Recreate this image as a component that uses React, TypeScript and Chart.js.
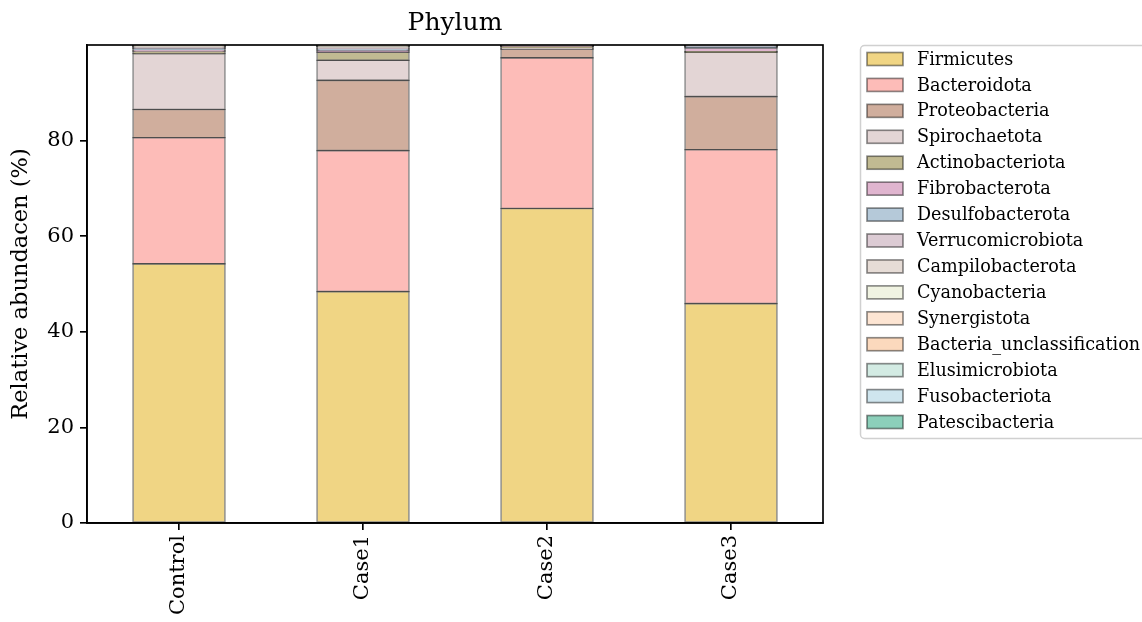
import React, { useEffect, useRef } from "react";
import { Chart, registerables } from "chart.js";

Chart.register(...registerables);

const categories = ["Control", "Case1", "Case2", "Case3"];

const phyla = [
  "Firmicutes",
  "Bacteroidota",
  "Proteobacteria",
  "Spirochaetota",
  "Actinobacteriota",
  "Fibrobacterota",
  "Desulfobacterota",
  "Verrucomicrobiota",
  "Campilobacterota",
  "Cyanobacteria",
  "Synergistota",
  "Bacteria_unclassification",
  "Elusimicrobiota",
  "Fusobacteriota",
  "Patescibacteria",
];

const colors = [
  "#f0d584",
  "#fdbcb8",
  "#d0ae9d",
  "#e3d5d5",
  "#c1ba92",
  "#e0b5cf",
  "#b5c9d9",
  "#dccbd4",
  "#e6dcd6",
  "#f0f3e2",
  "#fde5d3",
  "#fbd9bd",
  "#d3ebe3",
  "#cfe5ee",
  "#8ccfba",
];

// values per phylum: [Control, Case1, Case2, Case3]
const firmicutes = [54.2, 48.4, 65.8, 45.9];
const bacteroidota = [26.4, 29.5, 31.5, 32.2];
const proteobacteria = [5.9, 14.7, 1.8, 11.1];
const spirochaetota = [11.7, 4.2, 0.2, 9.3];
const actinobacteriota = [0.4, 1.7, 0.3, 0.1];
const fibrobacterota = [0.3, 0.3, 0.1, 0.8];
const desulfobacterota = [0.3, 0.3, 0.1, 0.2];
const verrucomicrobiota = [0.2, 0.2, 0.05, 0.1];
const campilobacterota = [0.2, 0.3, 0.05, 0.1];
const cyanobacteria = [0.1, 0.1, 0.03, 0.05];
const synergistota = [0.1, 0.1, 0.02, 0.05];
const bacteriaUnclassification = [0.1, 0.1, 0.02, 0.05];
const elusimicrobiota = [0.05, 0.05, 0.01, 0.02];
const fusobacteriota = [0.03, 0.03, 0.01, 0.02];
const patescibacteria = [0.02, 0.02, 0.01, 0.01];

const seriesValues = [
  firmicutes,
  bacteroidota,
  proteobacteria,
  spirochaetota,
  actinobacteriota,
  fibrobacterota,
  desulfobacterota,
  verrucomicrobiota,
  campilobacterota,
  cyanobacteria,
  synergistota,
  bacteriaUnclassification,
  elusimicrobiota,
  fusobacteriota,
  patescibacteria,
];

const yTicks = [0, 20, 40, 60, 80];
const titleText = "Phylum";
const yTitle = "Relative abundacen (%)";

const FONT = "'DejaVu Serif', serif";

const decorPlugin = {
  id: "decor",
  afterDatasetsDraw(chart: any) {
    const { ctx, chartArea } = chart;
    const { left, right, top, bottom } = chartArea;
    ctx.save();
    ctx.strokeStyle = "#000";
    ctx.lineWidth = 1.67;
    ctx.strokeRect(left, top, right - left, bottom - top);
    ctx.restore();
  },
  afterDraw(chart: any) {
    const { ctx, chartArea } = chart;
    const { left, right, top } = chartArea;
    ctx.save();
    ctx.fillStyle = "#000";
    ctx.font = `25px ${FONT}`;
    ctx.textAlign = "center";
    ctx.textBaseline = "middle";
    ctx.fillText(titleText, (left + right) / 2, top - 22);

    const bx = 860.5;
    const by = 45.5;
    const bw = 300;
    const bh = 393;
    const r = 4;
    ctx.beginPath();
    ctx.moveTo(bx + r, by);
    ctx.lineTo(bx + bw - r, by);
    ctx.arcTo(bx + bw, by, bx + bw, by + r, r);
    ctx.lineTo(bx + bw, by + bh - r);
    ctx.arcTo(bx + bw, by + bh, bx + bw - r, by + bh, r);
    ctx.lineTo(bx + r, by + bh);
    ctx.arcTo(bx, by + bh, bx, by + bh - r, r);
    ctx.lineTo(bx, by + r);
    ctx.arcTo(bx, by, bx + r, by, r);
    ctx.closePath();
    ctx.fillStyle = "rgba(255,255,255,0.8)";
    ctx.fill();
    ctx.strokeStyle = "#d0d0d0";
    ctx.lineWidth = 1.5;
    ctx.stroke();

    const rowStep = 25.93;
    ctx.font = `17.6px ${FONT}`;
    ctx.textAlign = "left";
    ctx.textBaseline = "middle";
    chart.data.datasets.forEach((ds: any, i: number) => {
      const cy = 59 + i * rowStep;
      ctx.fillStyle = ds.backgroundColor;
      ctx.fillRect(867, cy - 6.5, 36, 13);
      ctx.strokeStyle = "rgba(0,0,0,0.45)";
      ctx.lineWidth = 1.67;
      ctx.strokeRect(867, cy - 6.5, 36, 13);
      ctx.fillStyle = "#000";
      ctx.fillText(ds.label, 917, cy + 1);
    });
    ctx.restore();
  },
};

export default function App() {
  const canvasRef = useRef<HTMLCanvasElement | null>(null);

  useEffect(() => {
    document.body.style.margin = "0";
    const canvas = canvasRef.current;
    if (!canvas) return;
    const chart = new Chart(canvas, {
      type: "bar",
      data: {
        labels: categories,
        datasets: phyla.map((name, i) => ({
          label: name,
          data: seriesValues[i],
          backgroundColor: colors[i],
          borderColor: "rgba(0,0,0,0.45)",
          borderWidth: 1.6,
          inflateAmount: 0.8,
          borderSkipped: false,
          categoryPercentage: 1,
          barPercentage: 0.5,
        })),
      },
      options: {
        animation: false,
        responsive: true,
        maintainAspectRatio: false,
        layout: { padding: { top: 45, right: 319, left: 0, bottom: 0 } },
        plugins: {
          legend: { display: false },
          title: { display: false },
          tooltip: { enabled: false },
        },
        scales: {
          x: {
            stacked: true,
            grid: {
              display: true,
              offset: false,
              drawOnChartArea: false,
              drawTicks: true,
              tickLength: 7,
              color: "#000",
              lineWidth: 1.67,
            },
            border: { display: true, color: "#000", width: 1.67 },
            ticks: {
              color: "#000",
              font: { family: FONT, size: 21 },
              minRotation: 90,
              maxRotation: 90,
              padding: 5,
            },
            afterFit: (scale: any) => {
              scale.height = 99;
            },
          },
          y: {
            stacked: true,
            min: 0,
            max: 100,
            afterBuildTicks: (scale: any) => {
              scale.ticks = yTicks.map((v) => ({ value: v }));
            },
            grid: {
              display: true,
              drawOnChartArea: false,
              drawTicks: true,
              tickLength: 7,
              color: "#000",
              lineWidth: 1.67,
            },
            border: { display: true, color: "#000", width: 1.67 },
            ticks: {
              color: "#000",
              font: { family: FONT, size: 21 },
              padding: 6,
            },
            title: {
              display: true,
              text: yTitle,
              color: "#000",
              font: { family: FONT, size: 22.5 },
              padding: { top: 8, bottom: 0 },
            },
            afterFit: (scale: any) => {
              scale.width = 87;
            },
          },
        },
      },
      plugins: [decorPlugin],
    });
    return () => chart.destroy();
  }, []);

  return (
    <div style={{ position: "absolute", left: 0, top: 0, width: 1142, height: 622, background: "#fff" }}>
      <canvas ref={canvasRef} />
    </div>
  );
}
